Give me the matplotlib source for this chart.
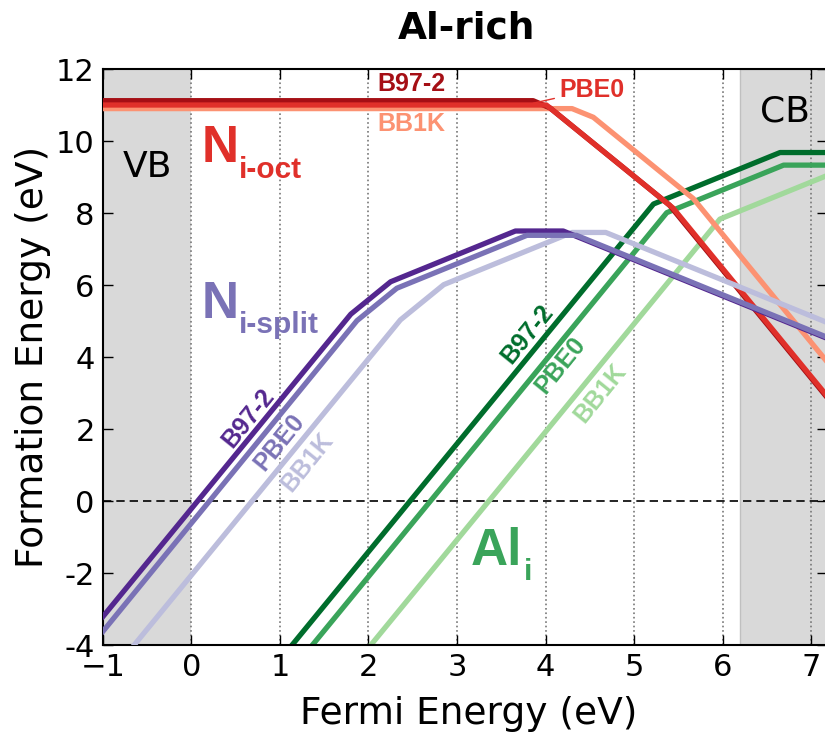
import matplotlib.pyplot as plt

# N_i-oct (reds)
oct_b97_x = [-1, 3.86, 4.05, 5.40, 7.2]
oct_b97_y = [11.12, 11.12, 10.92, 8.22, 2.82]
oct_pbe_x = [-1, 4.01, 5.44, 7.2]
oct_pbe_y = [11.0, 11.0, 8.14, 2.86]
oct_bb1k_x = [-1, 4.30, 4.54, 5.67, 7.2]
oct_bb1k_y = [10.9, 10.9, 10.66, 8.40, 3.81]

# N_i-split (purples)
split_b97_x = [-1, 1.80, 2.25, 3.66, 4.20, 7.2]
split_b97_y = [-3.21, 5.19, 6.09, 7.50, 7.50, 4.50]
split_pbe_x = [-1, 1.87, 2.32, 3.79, 4.35, 7.2]
split_pbe_y = [-3.62, 5.01, 5.91, 7.38, 7.38, 4.53]
split_bb1k_x = [-1, 2.36, 2.85, 4.30, 4.68, 7.2]
split_bb1k_y = [-5.06, 5.03, 6.01, 7.46, 7.46, 4.94]

# Al_i (greens)
al_b97_x = [-1, 5.22, 6.65, 7.2]
al_b97_y = [-10.41, 8.25, 9.68, 9.68]
al_pbe_x = [-1, 5.37, 6.69, 7.2]
al_pbe_y = [-11.1, 8.01, 9.33, 9.33]
al_bb1k_x = [-1, 5.97, 7.2]
al_bb1k_y = [-13.08, 7.83, 9.06]

xticks = [-1, 0, 1, 2, 3, 4, 5, 6, 7]
yticks = [-4, -2, 0, 2, 4, 6, 8, 10, 12]
ytick_labels = ['-4', '-2', '0', '2', '4', '6', '8', '10', '12']

reds = ['#a50f15', '#e0302a', '#fc9272']
purples = ['#54278f', '#7a72b6', '#bcbddc']
greens = ['#006d2c', '#3aa45a', '#a1d99b']

lab_font = 'Liberation Sans'

fig = plt.figure(figsize=(8.25, 7.42), dpi=100)
ax = fig.add_axes([0.1248, 0.1307, 0.8776, 0.7763])

ax.set_xlim(-1, 7.18)
ax.set_ylim(-4, 12)

# band edges
ax.axvspan(-1, 0, color='#d9d9d9', zorder=0, lw=0)
ax.axvspan(6.2, 7.18, facecolor='#d9d9d9', edgecolor='#c0c0c0', zorder=0, lw=1)

for x in range(0, 8):
    ax.axvline(x, color='#777777', ls=':', lw=1.2, zorder=1)
ax.axhline(0, color='black', ls='--', lw=1.2, dashes=(5, 3), zorder=1)

lw = 3.8
ax.plot(al_b97_x, al_b97_y, color=greens[0], lw=lw, zorder=2)
ax.plot(al_pbe_x, al_pbe_y, color=greens[1], lw=lw, zorder=2)
ax.plot(al_bb1k_x, al_bb1k_y, color=greens[2], lw=lw, zorder=2)

ax.plot(oct_bb1k_x, oct_bb1k_y, color=reds[2], lw=lw, zorder=3)
ax.plot(oct_b97_x, oct_b97_y, color=reds[0], lw=lw, zorder=3)
ax.plot(oct_pbe_x, oct_pbe_y, color=reds[1], lw=lw, zorder=3)

ax.plot(split_bb1k_x, split_bb1k_y, color=purples[2], lw=lw, zorder=4)
ax.plot(split_b97_x, split_b97_y, color=purples[0], lw=lw, zorder=4)
ax.plot(split_pbe_x, split_pbe_y, color=purples[1], lw=lw, zorder=4)

# functional labels
lab = dict(fontsize=18, fontweight='bold', family=lab_font, ha='center', va='center')
ax.text(2.49, 11.58, 'B97-2', color=reds[0], **lab)
ax.text(2.49, 10.47, 'BB1K', color=reds[2], **lab)
ax.annotate('PBE0', xy=(3.86, 11.05), xytext=(4.53, 11.42), color=reds[1],
            arrowprops=dict(arrowstyle='-', color=reds[1], lw=1,
                            shrinkA=2, shrinkB=0), **lab)

rot = dict(rotation=51, rotation_mode='anchor')
ax.text(0.647, 2.30, 'B97-2', color=purples[0], **lab, **rot)
ax.text(0.99, 1.63, 'PBE0', color=purples[1], **lab, **rot)
ax.text(1.31, 1.07, 'BB1K', color=purples[2], **lab, **rot)
ax.text(3.80, 4.64, 'B97-2', color=greens[0], **lab, **rot)
ax.text(4.17, 3.78, 'PBE0', color=greens[1], **lab, **rot)
ax.text(4.62, 2.99, 'BB1K', color=greens[2], **lab, **rot)

# defect labels
big = dict(fontsize=37, fontweight='bold', family=lab_font, ha='left', va='baseline')
sub = dict(fontsize=21.5, fontweight='bold', family=lab_font, ha='left', va='baseline')
ax.text(0.11, 9.43, 'N', color=reds[1], **big)
ax.text(0.53, 8.96, 'i-oct', color=reds[1], **sub)
ax.text(0.11, 5.08, 'N', color=purples[1], **big)
ax.text(0.53, 4.68, 'i-split', color=purples[1], **sub)
ax.text(3.15, -1.78, 'Al', color=greens[1], **big)
ax.text(3.75, -2.19, 'i', color=greens[1], **sub)

ax.text(-0.5, 9.01, 'VB', fontsize=26, ha='center', va='baseline')
ax.text(6.71, 10.54, 'CB', fontsize=26, ha='center', va='baseline')

ax.set_xticks(xticks)
ax.set_yticks(yticks)
ax.set_yticklabels(ytick_labels)
ax.tick_params(direction='in', length=7, width=1, labelsize=22,
               top=True, right=True, pad=6)
for s in ax.spines.values():
    s.set_linewidth(1.5)

ax.set_xlabel('Fermi Energy (eV)', fontsize=27)
ax.set_ylabel('Formation Energy (eV)', fontsize=27)
ax.xaxis.set_label_coords(0.505, -0.088)
ax.yaxis.set_label_coords(-0.072, 0.5)

fig.text(466.7 / 825, 1 - 38.3 / 742, 'Al-rich', fontsize=27, fontweight='bold',
         ha='center', va='baseline')

plt.savefig('out.png', dpi=100)
